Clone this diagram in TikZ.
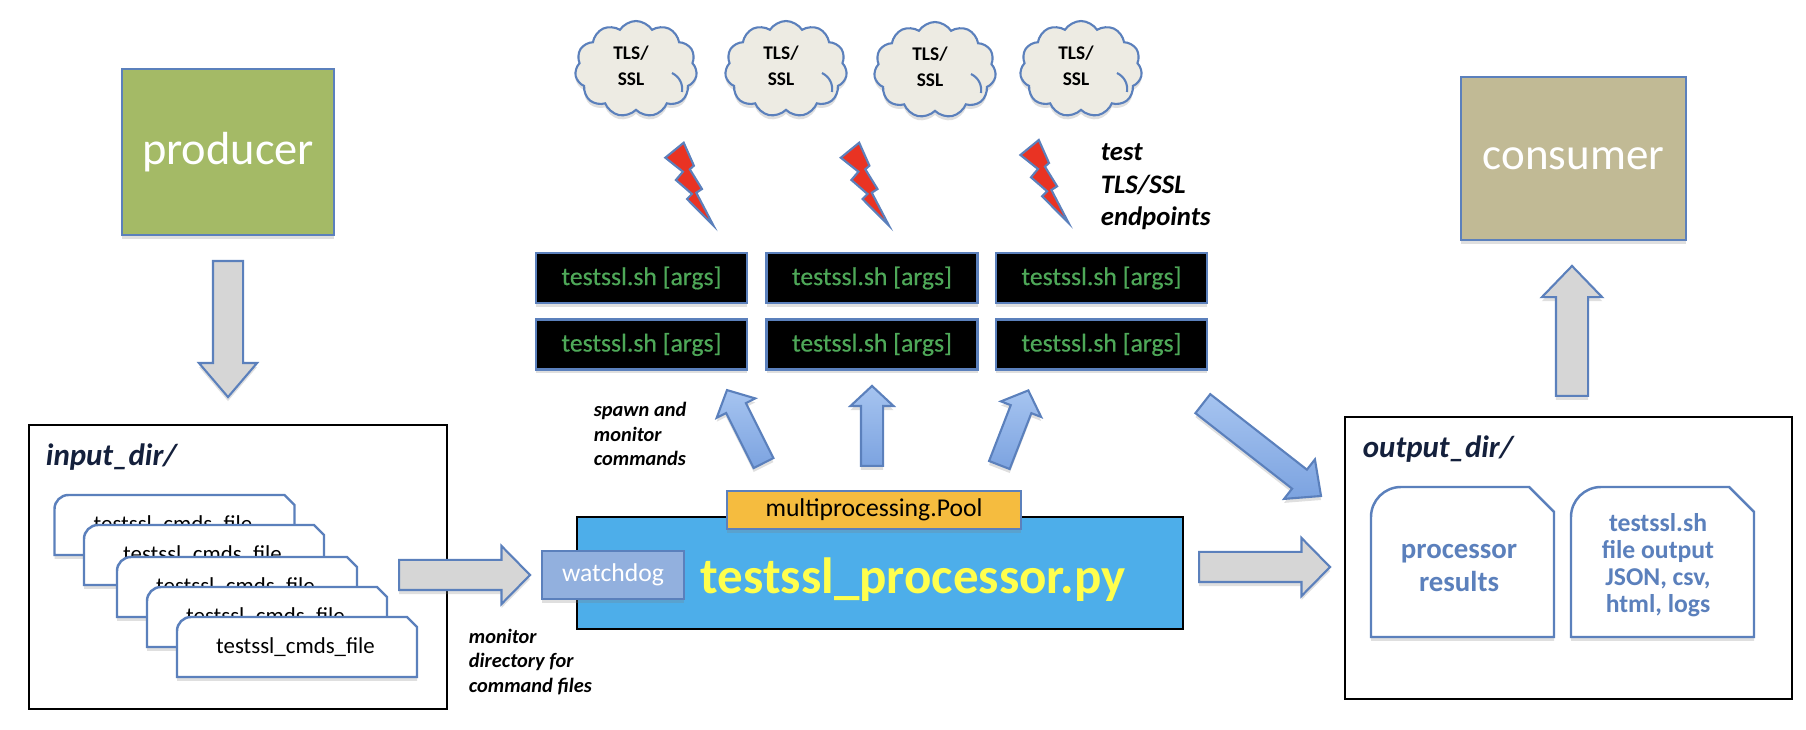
\documentclass[tikz,border=0pt]{standalone}
\usepackage{fontspec}
\setmainfont{Carlito}
\usetikzlibrary{shapes,shadows,positioning,calc,arrows.meta}
\definecolor{edgeblue}{HTML}{5B80BC}
\definecolor{grayfill}{HTML}{D6D6D6}
\definecolor{prodgreen}{HTML}{A4BA66}
\definecolor{conskhaki}{HTML}{C1BA95}
\definecolor{cloudfill}{HTML}{EDEBE3}
\definecolor{termgreen}{HTML}{4EA858}
\definecolor{mainblue}{HTML}{4DAEEA}
\definecolor{mainyellow}{HTML}{FFFF4D}
\definecolor{poolorange}{HTML}{F5BC3F}
\definecolor{dogblue}{HTML}{92B0DE}
\definecolor{boltred}{HTML}{E93323}
\definecolor{dirnavy}{HTML}{14203C}
\definecolor{arrowlight}{HTML}{A6C4F0}
\definecolor{arrowdark}{HTML}{7CA3E0}

\begin{document}
\begin{tikzpicture}[
	softshadow/.style={drop shadow={opacity=.25,shadow xshift=0cm,shadow yshift=-.04cm}},
	bigbox/.style={draw=edgeblue,line width=.6pt,text=white,softshadow},
	dirbox/.style={draw=black,line width=.8pt,fill=white,inner sep=0pt},
	termbox/.style={draw=edgeblue,line width=.8pt,fill=black,text=termgreen,minimum width=2.11cm,minimum height=.5cm,inner sep=0pt,font=\fontsize{7.3}{9}\selectfont\addfontfeature{FakeBold=.4},softshadow},
	tlscloud/.style={cloud,cloud puffs=11,cloud puff arc=115,aspect=1.25,draw=edgeblue,line width=.6pt,fill=cloudfill,minimum width=1.22cm,minimum height=.96cm,inner sep=0pt,softshadow},
	tlstext/.style={align=center,inner sep=0pt,xshift=-.05cm,yshift=.03cm,font=\fontsize{5.5}{7.5}\selectfont\bfseries},
	cloudfold/.style={draw=edgeblue,line width=.6pt},
	grayarrow/.style={single arrow,draw=edgeblue,line width=.6pt,fill=grayfill,inner sep=0pt,inner ysep=.14cm,single arrow head extend=.14cm,anchor=tail,softshadow},
	bluearrow/.style={single arrow,draw=edgeblue,line width=.6pt,left color=arrowlight,right color=arrowdark,shading angle=0,inner sep=0pt,inner ysep=.1cm,single arrow head extend=.105cm,anchor=tail,softshadow},
	filebox/.style={draw=edgeblue,line width=.7pt,fill=white,softshadow},
	filetext/.style={font=\fontsize{6.5}{8}\selectfont},
	resulttext/.style={text=edgeblue,align=center,font=\fontsize{7.3}{7.7}\selectfont\bfseries},
	dirtext/.style={text=dirnavy,anchor=west,font=\fontsize{8.8}{10}\selectfont\bfseries\itshape},
	notetext/.style={anchor=west,align=left,font=\fontsize{5.8}{6.9}\selectfont\bfseries\itshape},
	pics/cmdfile/.style={code={
		\draw[filebox] (0,0) -- (0,.46) arc[start angle=180,end angle=90,radius=.14] -- (2.3,.6) -- (2.4,.5) -- (2.4,0) -- cycle;
		\node[filetext] (-label) at (1.185,.3) {testssl\_cmds\_file};
	}},
	pics/bolt/.style={code={
		\draw[draw=edgeblue,line width=.6pt,fill=boltred] (-.298,.83) -- (-.196,.6) -- (-.237,.564) -- (-.115,.367) -- (-.172,.33) -- (0,0) -- (-.265,.267) -- (-.215,.317) -- (-.376,.457) -- (-.306,.54) -- (-.482,.68) -- cycle;
	}}
]
	\useasboundingbox (0,0) rectangle (18.06,7.3);

	% producer and consumer
	\node[bigbox,fill=prodgreen,minimum width=2.12cm,minimum height=1.66cm,font=\fontsize{13.2}{15}\selectfont] (producer) at (2.28,5.78) {\raisebox{-.9pt}{producer}};
	\node[bigbox,fill=conskhaki,minimum width=2.25cm,minimum height=1.63cm,font=\fontsize{12.8}{15}\selectfont] (consumer) at (15.735,5.715) {\raisebox{-1.1pt}{consumer}};
	\node[grayarrow,rotate=-90,minimum height=1.36cm,single arrow tip angle=81] (arrowprod) at (2.28,4.7) {};
	\node[grayarrow,rotate=90,minimum height=1.3cm,inner ysep=.15cm,single arrow tip angle=88] (arrowcons) at (15.72,3.33) {};

	% input directory
	\node[dirbox,minimum width=4.18cm,minimum height=2.84cm] (inputdir) at (2.38,1.63) {};
	\node[dirtext] (inputlabel) at (.335,2.73) {input\_dir/};
	\pic (filea) at (.545,1.75) {cmdfile};
	\pic (fileb) at (.84,1.45) {cmdfile};
	\pic (filec) at (1.17,1.13) {cmdfile};
	\pic (filed) at (1.47,.83) {cmdfile};
	\pic (filee) at (1.77,.53) {cmdfile};

	% clouds and bolts
	\node[tlscloud] (clouda) at (6.36,6.61) {};
	\node[tlscloud] (cloudb) at (7.86,6.61) {};
	\node[tlscloud] (cloudc) at (9.35,6.6) {};
	\node[tlscloud] (cloudd) at (10.81,6.61) {};
	\node[tlstext] (tlsa) at (clouda) {TLS/\\SSL};
	\node[tlstext] (tlsb) at (cloudb) {TLS/\\SSL};
	\node[tlstext] (tlsc) at (cloudc) {TLS/\\SSL};
	\node[tlstext] (tlsd) at (cloudd) {TLS/\\SSL};
	\draw[cloudfold] ($(clouda)+(.36,-.04)$) to [bend left=35] ($(clouda)+(.46,-.23)$);
	\draw[cloudfold] ($(cloudb)+(.36,-.04)$) to [bend left=35] ($(cloudb)+(.46,-.23)$);
	\draw[cloudfold] ($(cloudc)+(.36,-.04)$) to [bend left=35] ($(cloudc)+(.46,-.23)$);
	\draw[cloudfold] ($(cloudd)+(.36,-.04)$) to [bend left=35] ($(cloudd)+(.46,-.23)$);
	\pic at (7.135,5.043) {bolt};
	\pic at (8.89,5.043) {bolt};
	\pic at (10.686,5.07) {bolt};
	\node[notetext,font=\fontsize{7.6}{9.2}\selectfont\bfseries\itshape] (testnote) at (10.885,5.43) {test\\TLS/SSL\\endpoints};

	% testssl commands
	\node[termbox] (terma) at (6.415,4.52) {testssl.sh [args]};
	\node[termbox] (termb) at (8.72,4.52) {testssl.sh [args]};
	\node[termbox] (termc) at (11.015,4.52) {testssl.sh [args]};
	\node[termbox] (termd) at (6.415,3.855) {testssl.sh [args]};
	\node[termbox] (terme) at (8.72,3.855) {testssl.sh [args]};
	\node[termbox] (termf) at (11.015,3.855) {testssl.sh [args]};
	\node[bluearrow,rotate=116.6,minimum height=.816cm,single arrow tip angle=94] (arrowspawna) at (7.64,2.66) {};
	\node[bluearrow,rotate=90,minimum height=.8cm,single arrow tip angle=94] (arrowspawnb) at (8.72,2.63) {};
	\node[bluearrow,rotate=68.8,minimum height=.8cm,single arrow tip angle=94] (arrowspawnc) at (9.99,2.64) {};
	\node[notetext] (spawnnote) at (5.815,2.96) {spawn and\\monitor\\commands};

	% processor
	\node[draw=black,line width=.8pt,fill=mainblue,minimum width=6.06cm,minimum height=1.12cm,inner sep=0pt] (processor) at (8.8,1.57) {};
	\node[text=mainyellow,font=\fontsize{14.5}{16}\selectfont\bfseries] (processorlabel) at (9.13,1.5) {testssl\_processor.py};
	\node[draw=edgeblue,line width=.8pt,fill=poolorange,minimum width=2.94cm,minimum height=.38cm,inner sep=0pt,font=\fontsize{7.3}{9}\selectfont,softshadow] (pool) at (8.74,2.2) {multiprocessing.Pool};
	\node[draw=edgeblue,line width=.8pt,fill=dogblue,text=white,minimum width=1.42cm,minimum height=.48cm,inner sep=0pt,font=\fontsize{7.3}{9}\selectfont,softshadow] (watchdog) at (6.13,1.55) {watchdog};
	\node[grayarrow,minimum height=1.31cm,single arrow tip angle=91] (arrowwatch) at (3.98,1.55) {};
	\node[notetext] (monitornote) at (4.565,.68) {monitor\\directory for\\command files};

	% output directory
	\node[dirbox,minimum width=4.47cm,minimum height=2.82cm] (outputdir) at (15.685,1.72) {};
	\node[dirtext] (outputlabel) at (13.505,2.81) {output\_dir/};
	\node[grayarrow,minimum height=1.31cm,single arrow tip angle=91] (arrowout) at (11.98,1.63) {};
	\node[bluearrow,rotate=-38,minimum height=1.5cm,inner ysep=.11cm,single arrow head extend=.13cm,single arrow tip angle=85] (arrowresult) at (12.02,3.27) {};
	\draw[filebox] (13.71,.93) -- (13.71,2.13) arc[start angle=180,end angle=90,radius=.3] -- (15.29,2.43) -- (15.54,2.18) -- (15.54,.93) -- cycle;
	\node[resulttext,font=\fontsize{8.2}{9.6}\selectfont\bfseries] (resulta) at (14.59,1.62) {processor\\results};
	\draw[filebox] (15.71,.93) -- (15.71,2.13) arc[start angle=180,end angle=90,radius=.3] -- (17.29,2.43) -- (17.54,2.18) -- (17.54,.93) -- cycle;
	\node[resulttext] (resultb) at (16.58,1.645) {testssl.sh\\file output\\JSON, csv,\\html, logs};
\end{tikzpicture}
\end{document}
